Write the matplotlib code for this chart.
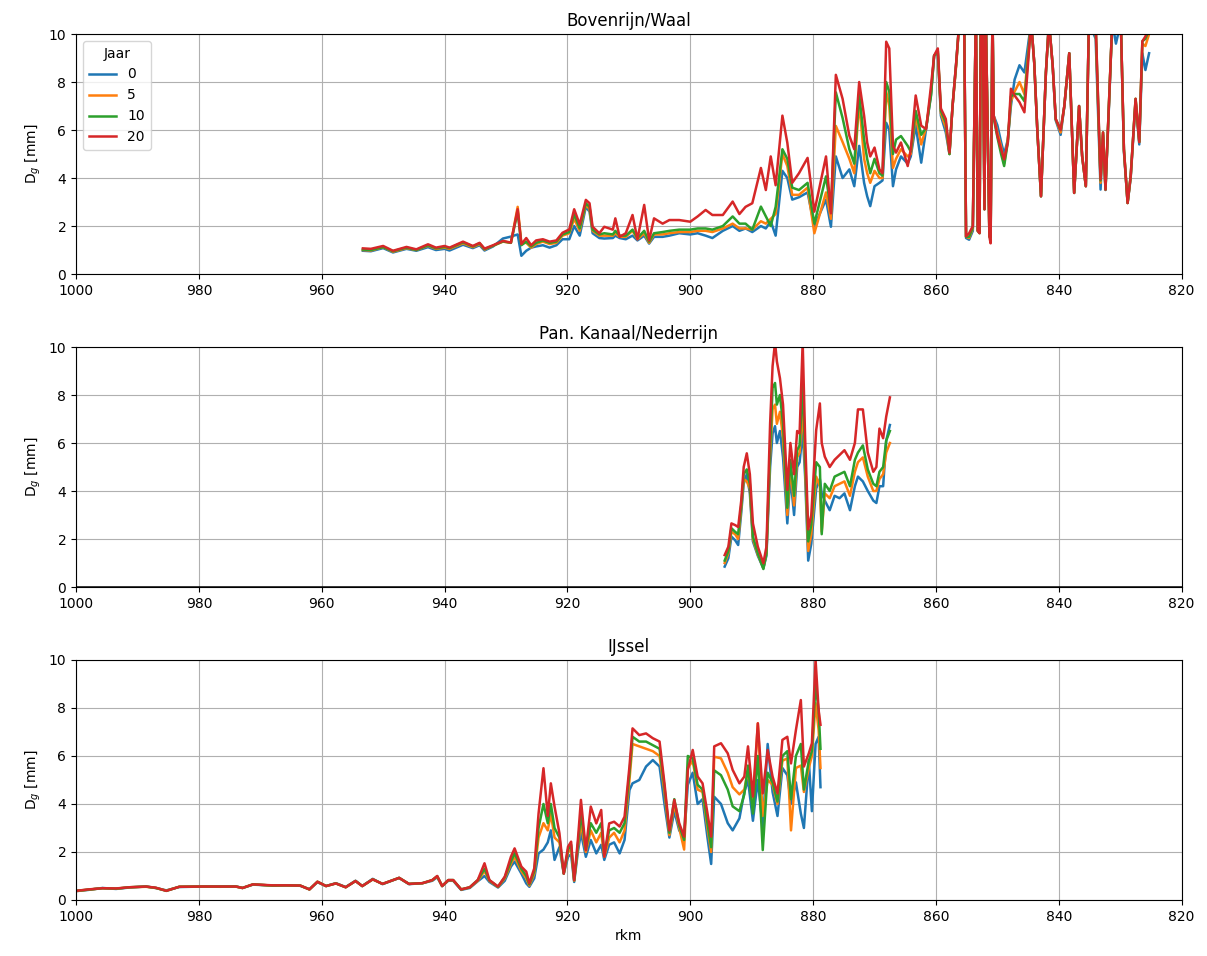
import numpy as np
import matplotlib
matplotlib.use('Agg')
import matplotlib.pyplot as plt

# Jaren (legenda)
jaren = [0, 5, 10, 20]
kleuren = ['tab:blue', 'tab:orange', 'tab:green', 'tab:red']

# Bovenrijn/Waal
rkm_waal = [953.3, 952.0, 950.0, 948.4, 946.2, 944.6, 942.7, 941.4, 940.0, 939.2,
            937.0, 935.4, 934.3, 933.5, 932.1, 930.5, 929.2, 928.1, 927.5, 926.7,
            925.9, 925.1, 924.0, 922.9, 921.8, 920.8, 919.7, 918.9, 918.0, 917.0,
            916.4, 915.9, 914.8, 914.0, 912.6, 912.2, 911.5, 910.5, 909.4, 908.6,
            907.5, 906.7, 905.9, 904.5, 903.4, 901.8, 900.0, 898.8, 897.5, 896.4,
            894.7, 893.1, 892.0, 891.0, 889.9, 888.5, 887.7, 886.9, 886.1, 885.0,
            884.2, 883.4, 882.3, 880.9, 879.8, 877.9, 877.1, 876.3, 875.2, 874.1,
            873.3, 872.5, 871.7, 871.2, 870.7, 870.0, 869.2, 868.7, 868.1, 867.6,
            867.0, 866.5, 865.7, 864.6, 864.1, 863.3, 862.4, 861.6, 860.8, 860.3,
            859.7, 859.2, 858.4, 857.8, 857.3, 856.7, 856.2, 855.4, 855.1, 854.6,
            854.0, 853.5, 853.2, 852.9, 852.7, 852.4, 852.1, 851.9, 851.3, 851.1,
            850.8, 850.6, 850.0, 849.4, 848.9, 848.3, 847.8, 847.2, 846.4, 845.6,
            844.5, 844.0, 843.5, 842.9, 842.1, 841.6, 841.0, 840.5, 839.7, 839.1,
            838.3, 837.5, 836.7, 836.2, 835.6, 835.1, 834.0, 833.2, 832.8, 832.4,
            831.8, 831.3, 830.7, 829.9, 829.4, 828.8, 828.3, 827.5, 826.9, 826.4,
            825.9, 825.3]
waal_0 = [0.97, 0.95, 1.08, 0.90, 1.05, 0.97, 1.12, 1.00, 1.05, 0.98,
          1.22, 1.08, 1.20, 0.98, 1.15, 1.48, 1.56, 1.65, 0.76, 0.97,
          1.10, 1.15, 1.20, 1.10, 1.20, 1.45, 1.45, 2.00, 1.60, 2.80,
          2.60, 1.70, 1.50, 1.48, 1.50, 1.60, 1.50, 1.45, 1.60, 1.40,
          1.60, 1.27, 1.55, 1.55, 1.60, 1.70, 1.65, 1.70, 1.60, 1.50,
          1.80, 2.00, 1.80, 1.90, 1.75, 2.00, 1.90, 2.20, 1.60, 4.30,
          4.00, 3.10, 3.20, 3.40, 2.00, 3.10, 1.97, 4.90, 4.00, 4.36,
          3.66, 5.34, 3.80, 3.24, 2.83, 3.66, 3.80, 3.90, 6.30, 6.00,
          3.66, 4.36, 4.90, 4.60, 4.90, 6.20, 4.64, 6.05, 7.50, 9.10,
          9.20, 6.60, 5.90, 5.00, 7.00, 8.80, 10.5, 10.5, 1.50, 1.43,
          1.80, 11.0, 1.80, 1.75, 11.0, 11.0, 2.70, 11.0, 1.60, 1.60,
          11.0, 6.60, 6.20, 5.50, 5.00, 5.60, 7.00, 8.10, 8.70, 8.40,
          10.5, 8.80, 6.00, 3.24, 8.40, 10.5, 8.70, 6.40, 5.80, 7.00,
          9.20, 3.38, 7.00, 4.90, 3.66, 10.5, 9.80, 3.52, 5.80, 3.50,
          7.20, 10.5, 9.60, 10.5, 5.10, 2.96, 4.00, 7.20, 5.40, 9.20,
          8.50, 9.20]
waal_5 = [1.00, 0.98, 1.12, 0.93, 1.08, 1.00, 1.18, 1.05, 1.10, 1.05,
          1.28, 1.12, 1.25, 1.02, 1.18, 1.35, 1.30, 2.80, 1.30, 1.30,
          1.10, 1.25, 1.35, 1.25, 1.30, 1.60, 1.70, 2.30, 1.80, 2.90,
          2.70, 1.80, 1.60, 1.60, 1.60, 1.70, 1.55, 1.55, 1.80, 1.45,
          1.70, 1.30, 1.65, 1.65, 1.70, 1.75, 1.75, 1.80, 1.80, 1.75,
          1.90, 2.10, 1.90, 1.90, 1.85, 2.20, 2.10, 2.30, 2.50, 5.00,
          4.50, 3.30, 3.30, 3.60, 1.70, 3.40, 2.30, 6.17, 5.50, 4.80,
          4.20, 7.20, 4.80, 4.20, 3.80, 4.30, 4.00, 4.00, 7.60, 7.00,
          4.42, 4.80, 5.20, 4.90, 5.00, 6.60, 5.40, 6.10, 7.60, 9.10,
          9.30, 6.70, 6.10, 5.00, 7.00, 8.70, 10.5, 10.5, 1.55, 1.50,
          1.90, 11.0, 1.80, 1.72, 11.0, 11.0, 2.70, 11.0, 1.58, 1.60,
          11.0, 6.60, 5.90, 5.30, 4.60, 5.60, 7.20, 7.60, 8.00, 7.50,
          10.5, 8.80, 6.00, 3.24, 8.40, 10.5, 8.70, 6.45, 5.90, 7.00,
          9.20, 3.38, 7.00, 4.90, 3.66, 10.5, 10.2, 3.80, 5.90, 3.52,
          7.30, 10.5, 10.3, 10.5, 5.20, 2.96, 4.05, 7.30, 5.50, 9.60,
          9.50, 10.0]
waal_10 = [1.02, 1.00, 1.12, 0.95, 1.10, 1.00, 1.20, 1.07, 1.13, 1.08,
           1.32, 1.15, 1.28, 1.04, 1.18, 1.36, 1.30, 2.60, 1.20, 1.35,
           1.15, 1.30, 1.40, 1.30, 1.35, 1.65, 1.75, 2.50, 1.90, 2.95,
           2.80, 1.85, 1.65, 1.70, 1.65, 1.80, 1.60, 1.60, 1.85, 1.50,
           1.80, 1.35, 1.70, 1.75, 1.80, 1.85, 1.85, 1.90, 1.90, 1.85,
           2.00, 2.40, 2.10, 2.10, 1.85, 2.81, 2.40, 2.00, 2.80, 5.20,
           4.80, 3.60, 3.50, 3.80, 2.10, 4.07, 2.60, 7.57, 6.50, 5.20,
           4.60, 7.50, 5.60, 4.80, 4.20, 4.80, 4.20, 4.10, 8.00, 7.60,
           5.00, 5.60, 5.75, 5.34, 5.10, 6.80, 5.80, 6.10, 7.44, 9.10,
           9.30, 6.80, 6.30, 5.00, 7.00, 8.80, 10.5, 10.5, 1.55, 1.55,
           1.95, 11.0, 1.80, 1.70, 11.0, 11.0, 2.70, 11.0, 1.55, 1.50,
           11.0, 6.50, 5.70, 5.00, 4.50, 5.50, 7.40, 7.50, 7.50, 7.20,
           10.5, 8.80, 6.00, 3.24, 8.40, 10.5, 8.70, 6.45, 6.00, 7.00,
           9.20, 3.38, 7.00, 4.92, 3.66, 10.5, 10.4, 3.90, 5.90, 3.52,
           7.30, 10.5, 10.4, 10.5, 5.20, 2.96, 4.08, 7.30, 5.50, 9.70,
           9.80, 10.2]
waal_20 = [1.07, 1.05, 1.17, 0.97, 1.13, 1.03, 1.24, 1.10, 1.17, 1.10,
           1.35, 1.17, 1.30, 1.06, 1.20, 1.38, 1.31, 2.70, 1.25, 1.50,
           1.20, 1.40, 1.45, 1.35, 1.40, 1.72, 1.86, 2.70, 2.07, 3.09,
           2.95, 1.97, 1.70, 1.97, 1.85, 2.32, 1.55, 1.70, 2.46, 1.45,
           2.88, 1.40, 2.32, 2.10, 2.25, 2.25, 2.18, 2.40, 2.67, 2.46,
           2.46, 3.02, 2.50, 2.80, 2.95, 4.42, 3.50, 4.90, 3.70, 6.60,
           5.47, 3.80, 4.20, 4.84, 2.60, 4.90, 2.53, 8.30, 7.30, 5.76,
           5.20, 8.00, 6.60, 5.48, 4.90, 5.27, 4.36, 4.20, 9.68, 9.40,
           5.34, 5.06, 5.48, 4.50, 5.20, 7.44, 6.18, 6.04, 7.86, 9.10,
           9.40, 6.90, 6.46, 5.06, 7.00, 8.84, 10.5, 10.5, 1.57, 1.70,
           2.00, 11.0, 1.80, 1.70, 11.0, 11.0, 2.70, 11.0, 1.55, 1.28,
           11.0, 6.60, 5.76, 5.20, 4.78, 5.48, 7.72, 7.44, 7.16, 6.74,
           10.5, 8.80, 6.00, 3.24, 8.40, 10.5, 8.70, 6.46, 6.00, 7.00,
           9.20, 3.38, 7.00, 4.92, 3.66, 10.5, 10.5, 3.94, 5.90, 3.52,
           7.30, 10.5, 10.5, 10.5, 5.20, 2.96, 4.08, 7.30, 5.50, 9.70,
           9.90, 10.3]

# Pan. Kanaal/Nederrijn
rkm_nrijn = [894.4, 893.8, 893.3, 892.7, 892.2, 891.7, 891.3, 890.8, 890.3, 889.8,
             889.0, 888.1, 887.6, 887.0, 886.6, 886.2, 885.9, 885.4, 884.9, 884.2,
             883.7, 883.1, 882.6, 882.2, 881.7, 881.3, 880.8, 880.3, 879.5, 878.9,
             878.6, 878.1, 877.3, 876.5, 875.7, 874.9, 874.0, 873.2, 872.7, 871.9,
             871.1, 870.2, 869.7, 869.2, 868.6, 868.1, 867.5]
nrijn_0 = [0.85, 1.20, 2.10, 1.95, 1.75, 3.10, 4.30, 4.70, 3.90, 1.90,
           1.30, 0.78, 1.30, 5.00, 6.40, 6.70, 6.00, 6.50, 5.40, 2.65,
           4.60, 3.00, 5.00, 5.20, 6.50, 4.60, 1.10, 1.80, 4.10, 4.50,
           3.90, 3.60, 3.20, 3.80, 3.70, 3.90, 3.20, 4.20, 4.60, 4.40,
           4.00, 3.60, 3.50, 4.20, 4.20, 6.10, 6.75]
nrijn_5 = [1.00, 1.40, 2.30, 2.20, 2.00, 3.30, 4.50, 4.40, 4.10, 2.00,
           1.35, 0.80, 1.40, 5.50, 7.40, 7.60, 6.80, 7.30, 6.20, 3.00,
           5.00, 3.40, 5.40, 5.60, 7.50, 5.00, 1.50, 2.20, 4.60, 4.20,
           2.30, 3.90, 3.70, 4.20, 4.30, 4.40, 3.80, 4.80, 5.20, 5.40,
           4.60, 4.00, 4.00, 4.50, 4.70, 5.60, 6.00]
nrijn_10 = [1.10, 1.50, 2.45, 2.30, 2.20, 3.40, 4.70, 4.90, 4.30, 2.10,
            1.40, 0.75, 1.40, 5.80, 8.30, 8.50, 7.60, 8.00, 6.80, 3.30,
            5.30, 3.80, 5.70, 5.90, 8.50, 5.40, 1.90, 2.60, 5.20, 5.00,
            2.20, 4.30, 4.00, 4.60, 4.70, 4.80, 4.20, 5.30, 5.60, 5.90,
            4.90, 4.30, 4.20, 4.80, 5.00, 6.10, 6.50]
nrijn_20 = [1.33, 1.68, 2.65, 2.58, 2.50, 3.60, 5.00, 5.57, 4.70, 2.65,
            1.68, 0.99, 1.68, 6.82, 9.20, 10.2, 9.40, 8.70, 7.60, 4.04,
            6.00, 4.70, 6.50, 6.40, 10.2, 6.20, 2.40, 3.00, 6.54, 7.65,
            6.00, 5.43, 5.00, 5.30, 5.50, 5.70, 5.30, 6.00, 7.40, 7.40,
            5.60, 4.80, 5.00, 6.60, 6.20, 7.10, 7.90]

# IJssel
rkm_ijssel = [1000.0, 998.0, 995.7, 993.5, 991.3, 988.6, 987.0, 985.3, 983.2, 979.4,
              976.5, 974.0, 972.9, 971.2, 968.0, 965.8, 963.5, 962.0, 960.7, 959.3,
              957.7, 956.1, 954.5, 953.4, 951.7, 950.1, 947.4, 945.8, 943.6, 942.0,
              941.2, 940.4, 939.4, 938.6, 937.3, 935.9, 934.6, 933.5, 932.7, 931.3,
              930.2, 929.2, 928.6, 927.5, 926.7, 926.2, 925.4, 924.7, 923.9, 923.2,
              922.7, 922.1, 921.3, 920.6, 919.9, 919.4, 918.9, 918.3, 917.8, 917.0,
              916.2, 915.3, 914.5, 914.0, 913.2, 912.4, 911.5, 910.7, 909.9, 909.4,
              908.3, 907.2, 906.1, 905.0, 904.2, 903.4, 902.6, 901.8, 901.0, 900.4,
              899.6, 898.8, 898.0, 897.2, 896.6, 896.1, 895.0, 893.9, 893.1, 892.0,
              891.2, 890.6, 889.8, 889.0, 888.2, 887.4, 886.6, 885.8, 885.0, 884.2,
              883.6, 882.8, 882.0, 881.5, 880.7, 880.2, 879.6, 879.1, 878.8]
ijssel_0 = [0.37, 0.42, 0.50, 0.46, 0.52, 0.56, 0.50, 0.40, 0.54, 0.56,
            0.56, 0.57, 0.50, 0.64, 0.60, 0.61, 0.59, 0.45, 0.74, 0.58,
            0.70, 0.54, 0.80, 0.58, 0.88, 0.66, 0.92, 0.66, 0.70, 0.80,
            0.95, 0.58, 0.80, 0.80, 0.42, 0.50, 0.78, 1.00, 0.75, 0.52,
            0.80, 1.39, 1.60, 1.10, 0.69, 0.55, 0.90, 1.94, 2.10, 2.40,
            2.90, 1.67, 2.20, 1.10, 1.80, 1.90, 0.75, 2.00, 2.80, 1.80,
            2.50, 1.94, 2.30, 1.67, 2.30, 2.40, 1.94, 2.50, 4.58, 4.86,
            5.00, 5.56, 5.83, 5.56, 4.00, 2.60, 3.70, 2.90, 2.60, 4.80,
            5.30, 4.00, 4.20, 2.60, 1.50, 4.30, 4.00, 3.20, 2.90, 3.40,
            4.50, 5.00, 3.30, 5.00, 3.00, 6.50, 4.50, 3.50, 5.50, 5.20,
            4.00, 4.90, 3.60, 3.00, 5.80, 3.70, 6.50, 6.80, 4.70]
ijssel_5 = [0.37, 0.43, 0.49, 0.47, 0.53, 0.55, 0.50, 0.39, 0.55, 0.56,
            0.55, 0.56, 0.50, 0.65, 0.60, 0.61, 0.60, 0.44, 0.76, 0.58,
            0.69, 0.53, 0.79, 0.58, 0.86, 0.67, 0.92, 0.67, 0.70, 0.82,
            0.98, 0.58, 0.82, 0.82, 0.44, 0.52, 0.80, 1.20, 0.80, 0.54,
            0.90, 1.50, 1.80, 1.20, 0.90, 0.60, 1.10, 2.60, 3.20, 2.90,
            3.60, 2.60, 2.40, 1.10, 2.00, 2.10, 0.80, 2.20, 3.20, 2.00,
            2.90, 2.40, 2.80, 1.80, 2.60, 2.80, 2.40, 2.90, 5.00, 6.50,
            6.40, 6.30, 6.20, 6.00, 4.50, 2.70, 4.00, 3.00, 2.10, 5.50,
            5.80, 4.60, 4.50, 3.00, 2.00, 5.97, 5.90, 5.30, 4.70, 4.40,
            4.60, 5.40, 3.90, 7.36, 3.50, 5.00, 4.80, 4.00, 5.80, 5.90,
            2.90, 5.50, 5.60, 4.50, 5.50, 6.00, 8.20, 7.08, 5.50]
ijssel_10 = [0.38, 0.43, 0.49, 0.47, 0.53, 0.56, 0.50, 0.38, 0.55, 0.56,
             0.56, 0.56, 0.50, 0.65, 0.60, 0.61, 0.60, 0.44, 0.76, 0.58,
             0.69, 0.53, 0.79, 0.58, 0.86, 0.67, 0.92, 0.67, 0.70, 0.83,
             0.99, 0.58, 0.83, 0.83, 0.44, 0.53, 0.83, 1.30, 0.82, 0.55,
             0.95, 1.60, 1.95, 1.30, 1.00, 0.65, 1.20, 3.00, 4.00, 3.20,
             4.00, 3.00, 2.60, 1.10, 2.10, 2.30, 0.82, 2.30, 3.60, 2.10,
             3.20, 2.80, 3.20, 1.90, 2.90, 3.00, 2.80, 3.20, 5.30, 6.80,
             6.60, 6.60, 6.45, 6.30, 4.70, 2.80, 4.20, 3.10, 2.50, 6.00,
             5.90, 4.80, 4.60, 3.20, 2.20, 5.40, 5.20, 4.60, 3.90, 3.70,
             4.40, 5.60, 3.60, 6.00, 2.08, 5.30, 4.90, 4.10, 6.00, 6.20,
             4.20, 6.00, 6.50, 4.60, 5.80, 6.20, 9.00, 7.90, 6.30]
ijssel_20 = [0.38, 0.44, 0.49, 0.48, 0.53, 0.56, 0.51, 0.38, 0.55, 0.56,
             0.56, 0.56, 0.50, 0.65, 0.61, 0.61, 0.60, 0.44, 0.76, 0.58,
             0.69, 0.53, 0.79, 0.58, 0.86, 0.67, 0.92, 0.67, 0.70, 0.83,
             1.00, 0.58, 0.83, 0.83, 0.44, 0.53, 0.83, 1.53, 0.83, 0.56,
             0.97, 1.80, 2.15, 1.39, 1.18, 0.69, 1.32, 3.60, 5.49, 3.50,
             4.86, 3.90, 2.78, 1.10, 2.22, 2.43, 0.83, 2.50, 4.17, 2.08,
             3.89, 3.19, 3.75, 1.80, 3.19, 3.26, 3.06, 3.47, 5.56, 7.15,
             6.87, 6.94, 6.74, 6.60, 4.86, 2.90, 4.17, 3.20, 2.64, 5.42,
             6.25, 5.14, 4.86, 3.61, 2.64, 6.40, 6.53, 6.11, 5.42, 4.86,
             5.14, 6.40, 4.31, 7.36, 4.44, 6.25, 5.14, 4.44, 6.67, 6.80,
             5.69, 7.08, 8.33, 5.56, 6.11, 6.53, 10.0, 7.90, 7.30]

panelen = [
    ('Bovenrijn/Waal', rkm_waal, [waal_0, waal_5, waal_10, waal_20]),
    ('Pan. Kanaal/Nederrijn', rkm_nrijn, [nrijn_0, nrijn_5, nrijn_10, nrijn_20]),
    ('IJssel', rkm_ijssel, [ijssel_0, ijssel_5, ijssel_10, ijssel_20]),
]

fig, axs = plt.subplots(3, 1, figsize=(12.07, 9.56), dpi=100)
fig.subplots_adjust(left=0.063, right=0.979, top=0.9644, bottom=0.0586, hspace=0.304)

for ax, (titel, rkm, reeksen) in zip(axs, panelen):
    for jaar, kleur, waarden in zip(jaren, kleuren, reeksen):
        ax.plot(rkm, waarden, color=kleur, lw=1.8, label=str(jaar))
    ax.set_title(titel)
    ax.set_xlim(1000, 820)
    ax.set_ylim(0, 10)
    ax.set_xticks(np.arange(1000, 819, -20))
    ax.set_yticks(np.arange(0, 11, 2))
    ax.set_ylabel('D$_g$ [mm]')
    ax.grid(True)

# lege reeks van de Nederrijn ligt op nul
axs[1].axhline(0, color='k', lw=1.8)

axs[0].legend(title='Jaar', loc='upper left')
axs[2].set_xlabel('rkm')

plt.savefig('out.png')
